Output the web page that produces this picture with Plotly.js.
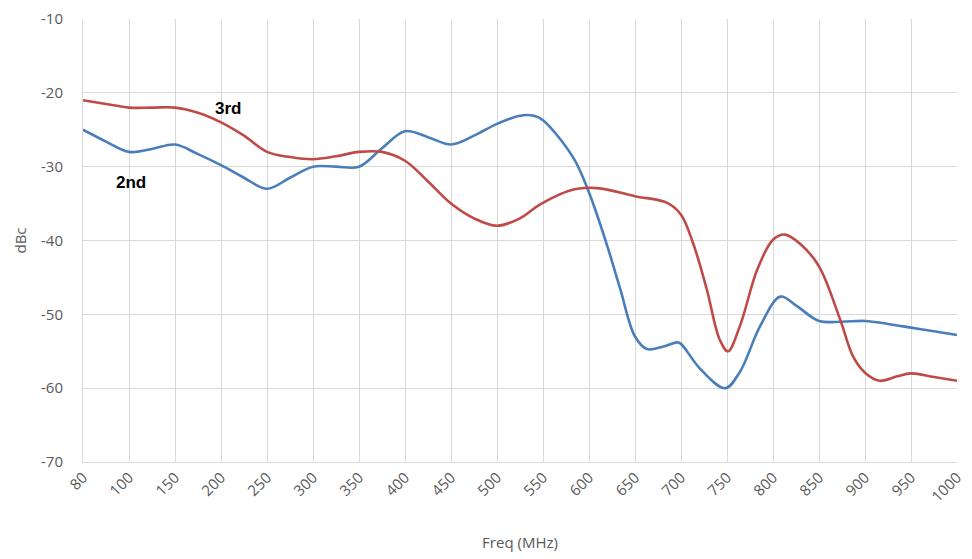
<!DOCTYPE html>
<html><head><meta charset="utf-8">
<script src="https://cdn.plot.ly/plotly-3.0.1.min.js"></script>
<style>html,body{margin:0;padding:0;background:#fff}#chart{width:972px;height:559px}</style>
</head><body><div id="chart"></div>
<script>
const tickFreqs = [80,100,150,200,250,300,350,400,450,500,550,600,650,700,750,800,850,900,950,1000];
const yTicks = [-70,-60,-50,-40,-30,-20,-10];
const freq2nd = [80,90,100,125,150,175,200,225,250,275,300,325,350,375,400,425,450,475,500,525,540,550,583,600,620,634,650,663,680,696,700,721,748,764,786,808,826,850,875,900,925,950,975,1000];
const dbc2nd  = [-25,-26.6,-28,-27.6,-27,-28.3,-29.8,-31.5,-33,-31.5,-30,-30,-30,-27.5,-25.2,-26,-27,-25.8,-24.2,-23.1,-23.1,-23.7,-28.8,-33.5,-40.8,-46.6,-53,-54.7,-54.4,-53.8,-54,-57.4,-60,-57.8,-51.6,-47.6,-48.9,-50.9,-51,-50.9,-51.3,-51.8,-52.3,-52.8];
const freq3rd = [80,90,100,125,150,175,200,225,250,275,300,325,350,375,400,425,450,475,500,525,547,583,609,650,685,700,713,728,742,751,764,783,800,813,830,850,873,887,900,916,935,950,975,1000];
const dbc3rd  = [-21,-21.5,-22,-22,-22,-22.7,-24,-25.8,-28,-28.7,-29,-28.6,-28,-28,-29.2,-32,-35,-37,-38,-37,-35.1,-33.1,-32.9,-34,-34.9,-36.5,-40.3,-46.6,-53.4,-55,-51.6,-43.9,-39.9,-39.2,-40.5,-43.5,-50.7,-55.7,-57.9,-59,-58.4,-58,-58.5,-59];

// axis position: equally spaced tick categories (80,100,150,...)
function pos(f){
  for(let i=0;i<tickFreqs.length-1;i++){
    if(f<=tickFreqs[i+1]) return i+(f-tickFreqs[i])/(tickFreqs[i+1]-tickFreqs[i]);
  }
  return tickFreqs.length-1;
}
const tickPos = tickFreqs.map(pos);

const traces = [
  {x: freq2nd.map(pos), y: dbc2nd, mode:'lines', name:'2nd', line:{color:'#4a7ebb', width:2.6, shape:'spline', smoothing:1}},
  {x: freq3rd.map(pos), y: dbc3rd, mode:'lines', name:'3rd', line:{color:'#be4b48', width:2.6, shape:'spline', smoothing:1}}
];
const fam = 'Open Sans, sans-serif';
const layout = {
  width:972, height:559,
  margin:{l:83, r:15, t:19, b:97},
  showlegend:false,
  plot_bgcolor:'#fff', paper_bgcolor:'#fff',
  xaxis:{range:[0, tickFreqs.length-1], tickvals:tickPos, ticktext:tickFreqs.map(String), tickangle:-45,
    showgrid:true, gridcolor:'#d9d9d9', gridwidth:1, zeroline:false, showline:true, linecolor:'#d9d9d9',
    ticks:'', tickfont:{family:fam, size:15, color:'#595959'},
    title:{text:'Freq (MHz)', font:{family:fam, size:15, color:'#595959'}, standoff:32}},
  yaxis:{range:[-70,-10], tickvals:yTicks, ticktext:yTicks.map(v=>String(v)), showgrid:true, gridcolor:'#d9d9d9', gridwidth:1, zeroline:false,
    showline:true, linecolor:'#d9d9d9', ticks:'', ticklabelstandoff:16, tickfont:{family:fam, size:15, color:'#595959'},
    title:{text:'dBc', font:{family:fam, size:15, color:'#595959'}, standoff:10}},
  annotations:[
    {xref:'paper', yref:'paper', x:0.166, y:0.799, xanchor:'center', yanchor:'middle', text:'<b>3rd</b>', showarrow:false, font:{family:'Liberation Sans, Arial, sans-serif', size:17, color:'#000'}},
    {xref:'paper', yref:'paper', x:0.055, y:0.630, xanchor:'center', yanchor:'middle', text:'<b>2nd</b>', showarrow:false, font:{family:'Liberation Sans, Arial, sans-serif', size:17, color:'#000'}}
  ]
};
Plotly.newPlot('chart', traces, layout, {displayModeBar:false, staticPlot:true});
</script></body></html>
